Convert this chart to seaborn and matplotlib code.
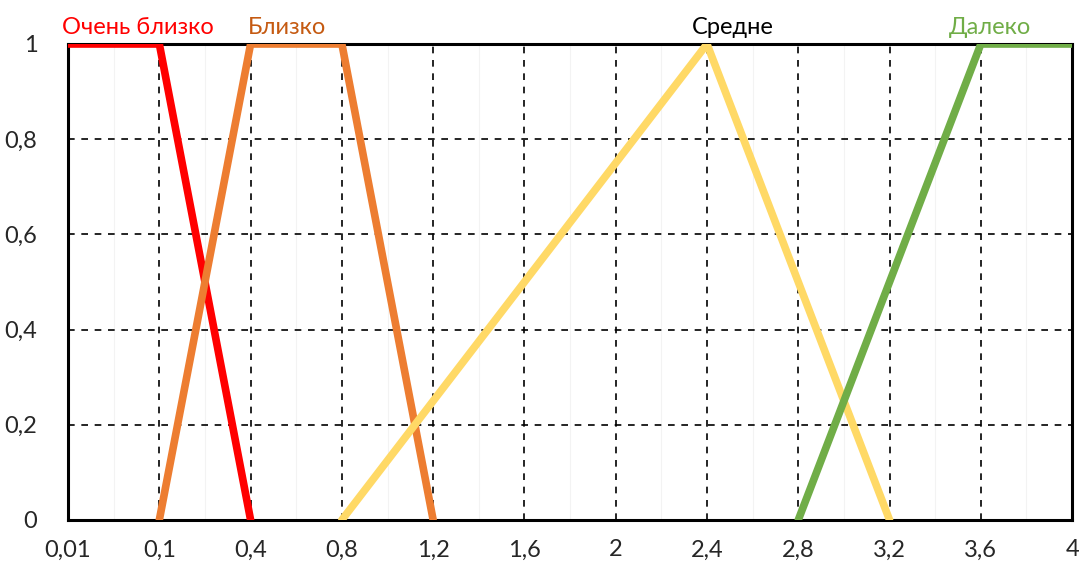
import numpy as np
import matplotlib.pyplot as plt
import pandas as pd
import seaborn as sns

categories = ['0,01', '0,1', '0,4', '0,8', '1,2', '1,6', '2', '2,4', '2,8', '3,2', '3,6', '4']
very_close = [1, 1, 0, None, None, None, None, None, None, None, None, None]
close = [None, 0, 1, 1, 0, None, None, None, None, None, None, None]
medium = [None, None, None, 0, 0.25, 0.5, 0.75, 1, 0.5, 0, None, None]
far = [None, None, None, None, None, None, None, None, 0, 0.5, 1, 1]

names = ['Очень близко', 'Близко', 'Средне', 'Далеко']
line_colors = ['#FF0000', '#ED7D31', '#FFD966', '#70AD47']
text_colors = ['#FF0000', '#C55A11', '#000000', '#70AD47']
label_pos = [0.77, 2.4, 7.28, 10.1]

rows = []
for name, vals in zip(names, [very_close, close, medium, far]):
    for i, v in enumerate(vals):
        if v is not None:
            rows.append({'x': i, 'y': v, 'series': name})
df = pd.DataFrame(rows)

sns.set_style('white')
plt.rcParams['font.family'] = ['Lato', 'DejaVu Sans']

fig = plt.figure(figsize=(10.8, 5.67), dpi=100)
ax = fig.add_axes([0.063, 0.083, 0.9297, 0.8394])

sns.lineplot(data=df, x='x', y='y', hue='series', hue_order=names,
             palette=line_colors, linewidth=5.5, sort=False, legend=False,
             ax=ax, zorder=3)

ax.set_xlim(0, len(categories) - 1)
ax.set_ylim(0, 1)
ax.set_xticks(range(len(categories)))
ax.set_xticklabels(categories)
ax.set_yticks([0, 0.2, 0.4, 0.6, 0.8, 1])
ax.set_yticklabels(['0', '0,2', '0,4', '0,6', '0,8', '1'])
ax.set_xticks(np.arange(0.5, len(categories) - 1, 1), minor=True)
ax.grid(True, which='major', color='black', linestyle=(0, (4, 4)), linewidth=1.2)
ax.grid(True, which='minor', axis='x', color='#F3F3F3', linewidth=0.8)
ax.set_axisbelow(True)
ax.set_xlabel('')
ax.set_ylabel('')
ax.tick_params(labelsize=17, length=0, pad=14)
ax.tick_params(axis='y', pad=22)
for s in ax.spines.values():
    s.set_color('black')
    s.set_linewidth(2.2)

for name, xp, c in zip(names, label_pos, text_colors):
    ax.text(xp, 1.012, name, color=c, fontsize=17, ha='center', va='bottom',
            clip_on=False)

plt.savefig('out.png', dpi=100)
